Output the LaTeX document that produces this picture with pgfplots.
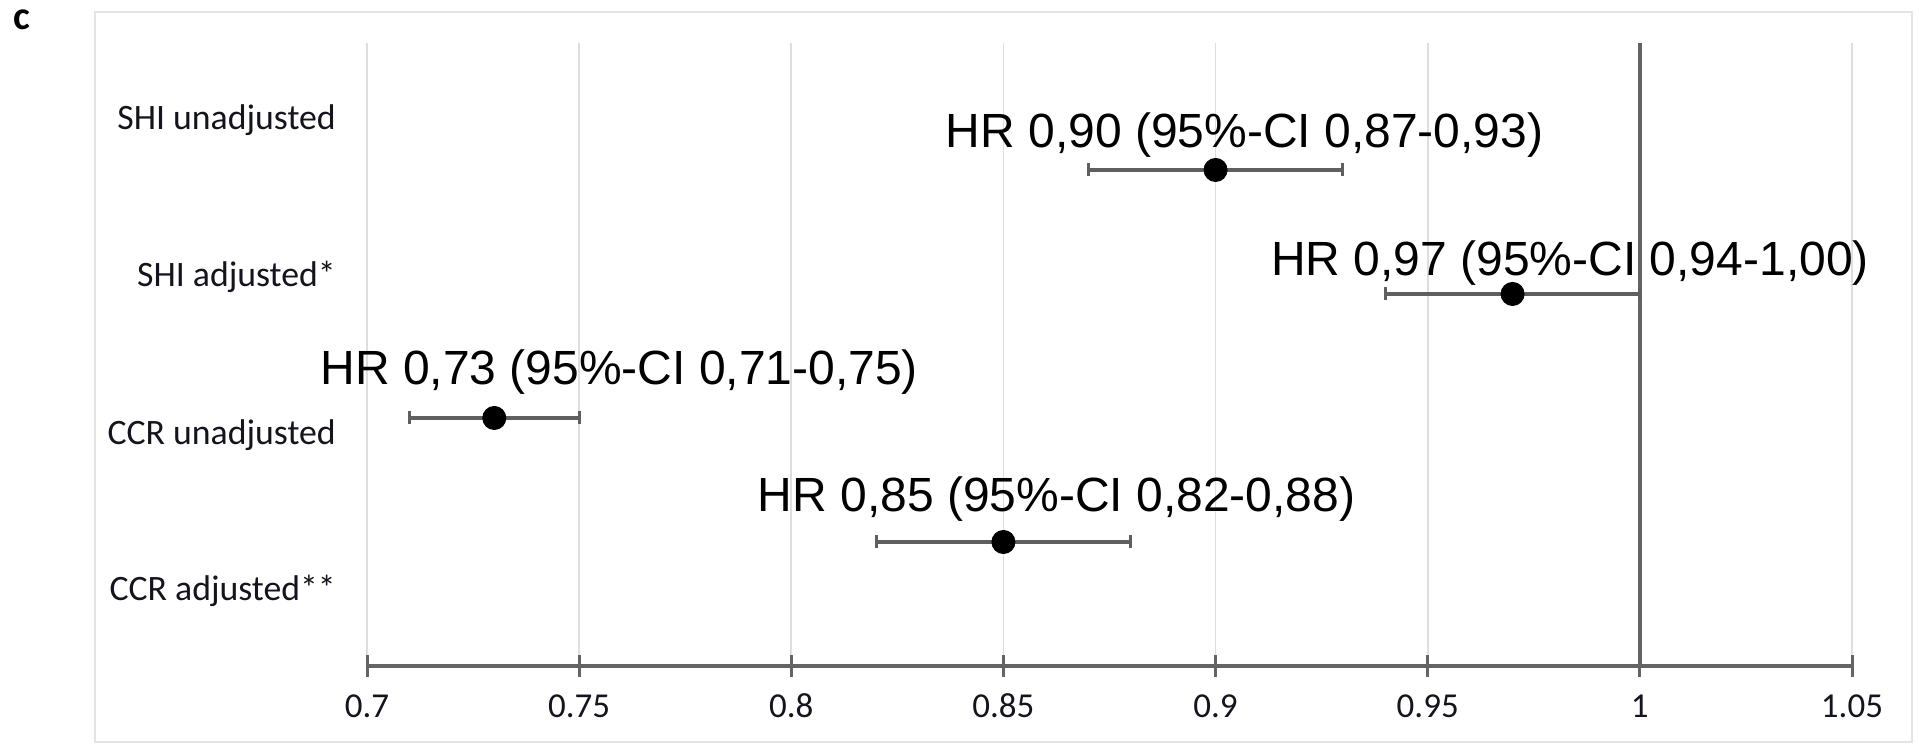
\documentclass[border=0pt]{standalone}
\usepackage{fontspec}
\setmainfont{Carlito}
\newfontfamily\arialfont{Liberation Sans}
\usepackage{pgfplots}
\pgfplotsset{compat=1.18}
\definecolor{axisgray}{RGB}{100,100,100}
\definecolor{bargray}{RGB}{95,95,95}
\definecolor{gridgray}{RGB}{222,222,222}
\definecolor{framegray}{RGB}{228,228,228}
\definecolor{labelblack}{RGB}{20,20,30}
\begin{document}
\begin{tikzpicture}
% 1 px of the reference = 0.4pt
\useasboundingbox (0,0) rectangle (767.6pt,298.8pt);
\draw[framegray, line width=0.9pt] (38pt,2pt) rectangle (764.8pt,294pt);
\node[anchor=base west, inner sep=0pt, font=\fontsize{16}{18}\selectfont\bfseries] at (5.2pt,286.8pt) {c};
\begin{axis}[
    at={(146.8pt,32.4pt)}, anchor=south west,
    scale only axis, width=594pt, height=249.2pt,
    xmin=0.7, xmax=1.05, ymin=0, ymax=5.024,
    axis x line*=bottom, axis y line*=left,
    y axis line style={draw=none},
    x axis line style={draw=axisgray, line width=1.4pt, -},
    xtick={0.7,0.75,0.8,0.85,0.9,0.95,1,1.05},
    xticklabels={0.7,0.75,0.8,0.85,0.9,0.95,1,1.05},
    ytick={0.53,1.79,3.06,4.33},
    yticklabels={CCR adjusted**,CCR unadjusted,SHI adjusted*,SHI unadjusted},
    y tick style={draw=none},
    x tick style={draw=axisgray, line width=1.2pt},
    major tick length=8.8pt, tick align=center,
    xmajorgrids, grid style={gridgray, line width=0.7pt},
    ticklabel style={text=labelblack},
    xticklabel style={anchor=base, inner sep=0pt, yshift=-16.4pt, font=\fontsize{14}{16}\selectfont},
    yticklabel style={anchor=base east, inner sep=0pt, xshift=-7.9pt, font=\fontsize{14.3}{17}\selectfont},
    /pgf/number format/assume math mode=true,
    clip=false,
]
% reference line at HR = 1
\addplot[axisgray, line width=1.4pt, forget plot] coordinates {(1,0) (1,5.024)};
% confidence intervals
\addplot[draw=none, mark=none, forget plot,
    error bars/.cd, x dir=both, x explicit,
    error bar style={draw=bargray, line width=1.3pt},
    error mark options={draw=bargray, line width=1.1pt, mark size=2.6pt, rotate=90}]
    coordinates {
    (0.90,4) +- (0.03,0)
    (0.97,3) +- (0.03,0)
    (0.73,2) +- (0.02,0)
    (0.85,1) +- (0.03,0)
    };
% hazard ratios
\addplot[only marks, mark=*, mark size=4.6pt, mark options={fill=black, draw=black}]
    coordinates {(0.90,4) (0.97,3) (0.73,2) (0.85,1)};
\begin{scope}[every node/.style={anchor=base west, inner sep=0pt, font={\arialfont\fontsize{19.2}{22}\selectfont}}]
\node at (axis cs:0.8363,4.185) {HR 0,90 (95\%-CI 0,87-0,93)};
\node at (axis cs:0.9130,3.153) {HR 0,97 (95\%-CI 0,94-1,00)};
\node at (axis cs:0.6889,2.266) {HR 0,73 (95\%-CI 0,71-0,75)};
\node at (axis cs:0.7920,1.242) {HR 0,85 (95\%-CI 0,82-0,88)};
\end{scope}
\end{axis}
\end{tikzpicture}
\end{document}
